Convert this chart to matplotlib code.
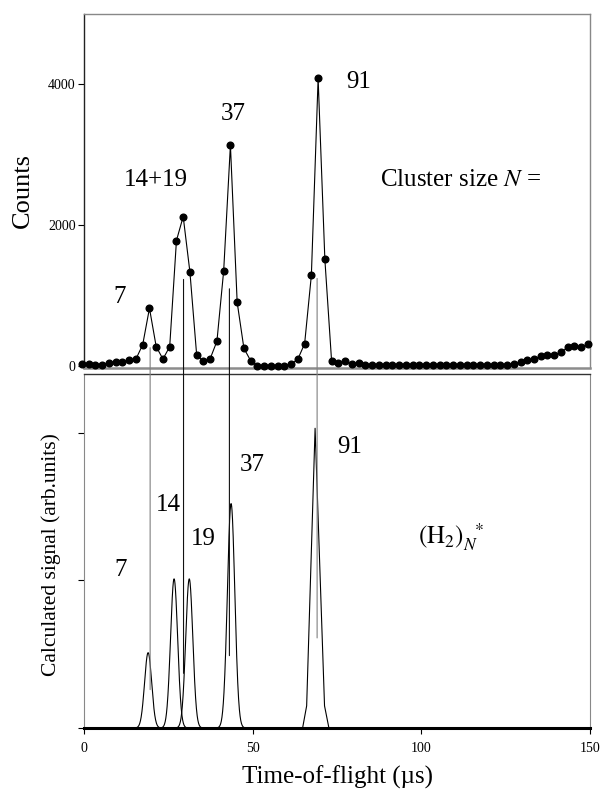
import numpy as np
import matplotlib
matplotlib.use("Agg")
import matplotlib.pyplot as plt
from matplotlib.patches import ConnectionPatch

plt.rcParams['font.family'] = ['Liberation Serif', 'DejaVu Serif']
plt.rcParams['mathtext.fontset'] = 'stix'

# measured time-of-flight spectrum (upper panel)
tof = [-0.6, 1.4, 3.4, 5.4, 7.4, 9.4, 11.4, 13.4, 15.4, 17.4,
       19.4, 21.4, 23.4, 25.4, 27.4, 29.4, 31.4, 33.4, 35.4, 37.4,
       39.4, 41.4, 43.4, 45.4, 47.4, 49.4, 51.4, 53.4, 55.4, 57.4,
       59.4, 61.4, 63.4, 65.4, 67.4, 69.4, 71.4, 73.4, 75.4, 77.4,
       79.4, 81.4, 83.4, 85.4, 87.4, 89.4, 91.4, 93.4, 95.4, 97.4,
       99.4, 101.4, 103.4, 105.4, 107.4, 109.4, 111.4, 113.4, 115.4, 117.4,
       119.4, 121.4, 123.4, 125.4, 127.4, 129.4, 131.4, 133.4, 135.4, 137.4,
       139.4, 141.4, 143.4, 145.4, 147.4, 149.4]
counts = [31, 31, 28, 28, 54, 64, 68, 88, 106,
          310, 826, 281, 106, 281, 1786, 2127, 1337,
          159, 78, 111, 358, 1356, 3141, 910, 258, 82,
          12, 12, 12, 12, 12,
          31, 106, 323, 1296, 4086, 1518,
          72, 56, 72, 35, 50, 22,
          20, 20, 19, 20, 20, 19, 20, 20, 20, 19, 20,
          20, 19, 20, 20, 20, 19, 20, 20, 20, 21,
          40, 59, 88, 102, 149, 167, 167, 201, 272, 290, 272, 319]

# calculated signal (lower panel): peak centre, height, width
peak_t = [19.0, 26.7, 31.2, 43.6]
peak_h = [0.51, 1.01, 1.01, 1.52]
peak_w = [1.05, 1.05, 1.05, 1.1]
# N=91 peak is drawn coarsely in the original
p91_t = [63.5, 64.8, 66.0, 68.5, 71.3, 72.6, 74.0]
p91_s = [0, 0, 0.15, 2.03, 0.15, 0, 0]

# vertical markers linking the two panels
link_t = [19.6, 29.5, 43.1, 69.1]
link_top = [266, 1235, 1102, 1249]
link_bot = [0.26, 0.37, 0.49, 0.61]
link_col = ['#808080', '#111111', '#111111', '#808080']

fig = plt.figure(figsize=(6.01, 7.95), dpi=100)
ax1 = fig.add_axes([0.1398, 0.5375, 0.8419, 0.4449])
ax2 = fig.add_axes([0.1398, 0.0843, 0.8419, 0.4457])

# upper panel
ax1.plot(tof, counts, color='black', lw=0.8, marker='o', ms=4.8,
         mec='black', mfc='black', clip_on=False, zorder=3)
ax1.set_xlim(0, 150)
ax1.set_ylim(-17, 5000)
ax1.set_xticks([])
ax1.set_yticks([0, 2000, 4000])
ax1.tick_params(axis='y', direction='out', length=4, width=0.8,
                labelsize=10, pad=2)
for s in ['top', 'right']:
    ax1.spines[s].set_color('#888888')
    ax1.spines[s].set_linewidth(1.0)
ax1.spines['bottom'].set_color('#8c8c8c')
ax1.spines['bottom'].set_linewidth(1.8)
ax1.spines['left'].set_color('#222222')
ax1.spines['left'].set_linewidth(1.0)

ax1.text(10.7, 988, '7', fontsize=18, ha='center', va='center')
ax1.text(21.3, 2640, '14+19', fontsize=18, ha='center', va='center')
ax1.text(44.3, 3585, '37', fontsize=18, ha='center', va='center')
ax1.text(81.4, 4033, '91', fontsize=18, ha='center', va='center')
ax1.text(87.6, 2640, 'Cluster size $N$ =', fontsize=18, ha='left', va='center')

# lower panel
for c, h, w in zip(peak_t, peak_h, peak_w):
    tt = np.linspace(c - 4.5 * w, c + 4.5 * w, 200)
    ax2.plot(tt, h * np.exp(-0.5 * ((tt - c) / w) ** 2), color='black', lw=0.8)
ax2.plot(p91_t, p91_s, color='black', lw=0.8)
ax2.set_xlim(0, 150)
ax2.set_ylim(0, 2.4)
ax2.set_xticks([0, 50, 100, 150])
ax2.set_yticks([0, 1, 2])
ax2.set_yticklabels([])
ax2.tick_params(axis='both', direction='out', length=4, width=0.8,
                labelsize=10, pad=6)
ax2.spines['bottom'].set_color('black')
ax2.spines['bottom'].set_linewidth(2.2)
ax2.spines['top'].set_color('#333333')
ax2.spines['top'].set_linewidth(1.0)
ax2.spines['left'].set_color('#888888')
ax2.spines['right'].set_color('#888888')

ax2.text(10.9, 1.07, '7', fontsize=18, ha='center', va='center')
ax2.text(25.0, 1.51, '14', fontsize=18, ha='center', va='center')
ax2.text(35.4, 1.28, '19', fontsize=18, ha='center', va='center')
ax2.text(50.0, 1.78, '37', fontsize=18, ha='center', va='center')
ax2.text(78.7, 1.90, '91', fontsize=18, ha='center', va='center')
ax2.text(99.0, 1.29, r'$\mathrm{(H_2)}_{N}^{\ \ *}$', fontsize=18,
         ha='left', va='center')

for t, a, b, col in zip(link_t, link_top, link_bot, link_col):
    con = ConnectionPatch(xyA=(t, a), coordsA=ax1.transData,
                          xyB=(t, b), coordsB=ax2.transData,
                          color=col, lw=0.8)
    fig.add_artist(con)

fig.text(22.5 / 601, 1 - 190 / 795, 'Counts', fontsize=19,
         rotation=90, ha='center', va='center')
fig.text(51.5 / 601, 1 - 555 / 795, 'Calculated signal (arb.units)',
         fontsize=15.5, rotation=90, ha='center', va='center')
fig.text(338 / 601, 1 - 777 / 795, 'Time-of-flight (\u00b5s)', fontsize=18,
         ha='center', va='center')

fig.savefig('out.png', dpi=100)
